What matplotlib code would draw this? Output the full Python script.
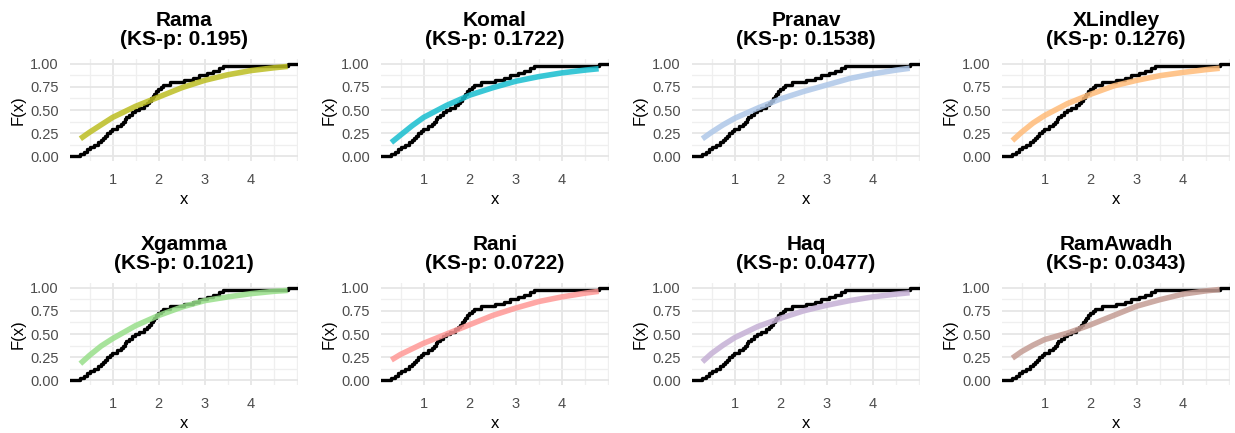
import numpy as np
import matplotlib
matplotlib.use("Agg")
import matplotlib.pyplot as plt
from matplotlib.ticker import MultipleLocator

plt.rcParams['font.family'] = ['Liberation Sans', 'DejaVu Sans']

# observed sample (read from the ECDF steps)
sample = [0.30, 0.38, 0.45, 0.52, 0.60, 0.68, 0.75, 0.80, 0.84, 0.88,
          0.94, 0.99, 1.10, 1.18, 1.22, 1.27, 1.30, 1.36, 1.42, 1.48,
          1.58, 1.68, 1.74, 1.80, 1.84, 1.87, 1.90, 1.94, 1.98, 2.04,
          2.10, 2.25, 2.55, 2.75, 2.88, 3.05, 3.18, 3.30, 3.40, 4.80]

models = ["Rama", "Komal", "Pranav", "XLindley", "Xgamma", "Rani", "Haq", "RamAwadh"]
ks_p = ["0.195", "0.1722", "0.1538", "0.1276", "0.1021", "0.0722", "0.0477", "0.0343"]
colors = ["#bcbd22", "#17becf", "#aec7e8", "#ffbb78", "#98df8a", "#ff9896", "#c5b0d5", "#c49c94"]

# fitted CDF values read at these x positions
x_fit = [0.3, 0.5, 0.75, 1.0, 1.5, 2.0, 2.5, 3.0, 3.5, 4.0, 4.5, 4.8]
fit_rama = [0.19, 0.26, 0.34, 0.42, 0.54, 0.64, 0.74, 0.82, 0.88, 0.925, 0.955, 0.97]
fit_komal = [0.15, 0.23, 0.33, 0.42, 0.55, 0.66, 0.74, 0.81, 0.86, 0.90, 0.93, 0.945]
fit_pranav = [0.19, 0.26, 0.34, 0.41, 0.52, 0.62, 0.70, 0.77, 0.84, 0.89, 0.93, 0.95]
fit_xlindley = [0.17, 0.26, 0.36, 0.44, 0.57, 0.67, 0.76, 0.82, 0.87, 0.905, 0.935, 0.95]
fit_xgamma = [0.18, 0.27, 0.37, 0.45, 0.59, 0.70, 0.79, 0.86, 0.90, 0.935, 0.96, 0.97]
fit_rani = [0.22, 0.28, 0.34, 0.40, 0.50, 0.60, 0.70, 0.78, 0.85, 0.90, 0.94, 0.96]
fit_haq = [0.20, 0.29, 0.38, 0.46, 0.58, 0.67, 0.75, 0.81, 0.86, 0.90, 0.93, 0.945]
fit_ramawadh = [0.24, 0.31, 0.38, 0.44, 0.51, 0.60, 0.70, 0.80, 0.87, 0.93, 0.965, 0.98]
fits = [fit_rama, fit_komal, fit_pranav, fit_xlindley, fit_xgamma, fit_rani, fit_haq, fit_ramawadh]

W, H = 1235, 433
fig = plt.figure(figsize=(W / 100, H / 100), dpi=100)
fig.patch.set_facecolor("white")

lefts = [70, 381, 692, 1002]
pw = 228
rows = [(59, 161), (283, 385)]

xs = np.sort(np.array(sample))
n = len(xs)
xmin, xmax = xs.min(), xs.max()
pad = 0.05 * (xmax - xmin)
step_x = np.concatenate([[xmin - 10], xs, [xmax + 10]])
step_y = np.concatenate([[0.0], np.arange(1, n + 1) / n, [1.0]])

for i, name in enumerate(models):
    r, c = divmod(i, 4)
    top, bot = rows[r]
    ax = fig.add_axes([lefts[c] / W, 1 - bot / H, pw / W, (bot - top) / H])
    ax.set_facecolor("white")
    for s in ax.spines.values():
        s.set_visible(False)
    ax.xaxis.set_major_locator(MultipleLocator(1))
    ax.xaxis.set_minor_locator(MultipleLocator(0.5))
    ax.yaxis.set_major_locator(MultipleLocator(0.25))
    ax.yaxis.set_minor_locator(MultipleLocator(0.125))
    ax.grid(which="major", color="#E6E6E6", lw=1.3)
    ax.grid(which="minor", color="#EFEFEF", lw=0.9)
    ax.set_axisbelow(True)
    ax.tick_params(which="both", length=0)
    ax.tick_params(axis="x", pad=9, labelsize=10.5, labelcolor="#4D4D4D")
    ax.tick_params(axis="y", pad=8, labelsize=10.5, labelcolor="#4D4D4D")

    ax.step(step_x, step_y, where="post", color="black", lw=2.4, zorder=3)
    ax.plot(x_fit, fits[i], color=colors[i], lw=4.0, alpha=0.85,
            solid_capstyle="butt", zorder=4)

    ax.set_xlim(xmin - pad, xmax + pad)
    ax.set_ylim(-0.05, 1.05)
    ax.set_xticks([1, 2, 3, 4])
    ax.set_yticks([0, 0.25, 0.5, 0.75, 1.0])
    ax.set_yticklabels(["0.00", "0.25", "0.50", "0.75", "1.00"])
    ax.set_xlabel("x", fontsize=12, labelpad=3)
    ax.set_ylabel("F(x)", fontsize=12, labelpad=3)
    ax.set_title(f"{name}\n(KS-p: {ks_p[i]})", fontsize=15, fontweight="bold",
                 linespacing=1.0, pad=10)

fig.savefig("out.png", dpi=100, facecolor="white")
